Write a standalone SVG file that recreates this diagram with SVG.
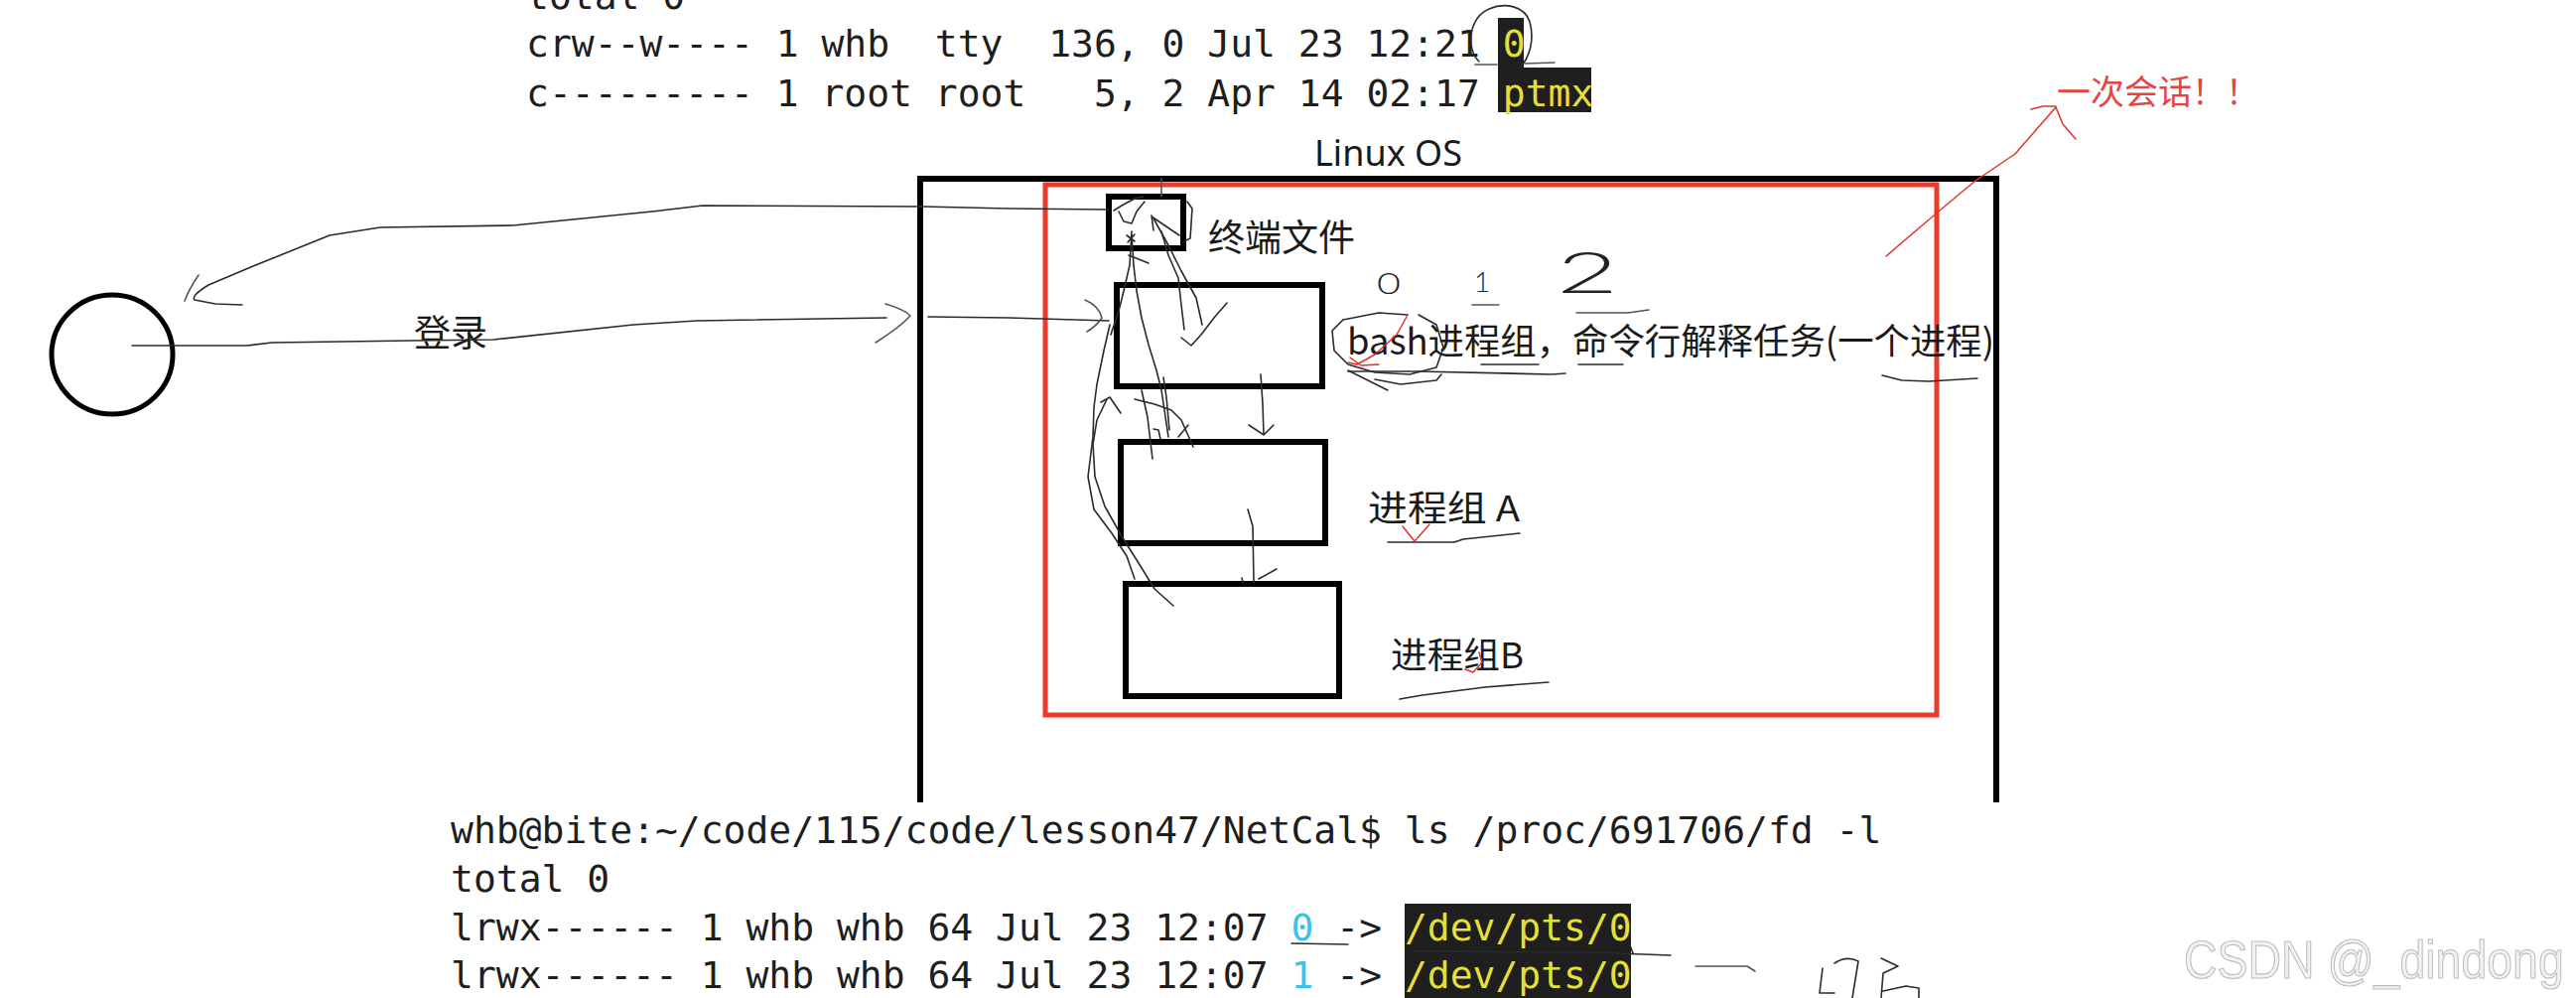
<svg xmlns="http://www.w3.org/2000/svg" width="2595" height="1005" viewBox="0 0 2595 1005">
<style>
.mono{font-family:"DejaVu Sans Mono","Liberation Mono",monospace;font-size:38px;fill:#1e1e1e;white-space:pre}
.yel{fill:#e4df3a}
.cyan{fill:#3fc0e6}
.hl{fill:#1f1f1f}
.cjk{font-family:"Noto Sans CJK SC","Noto Sans",sans-serif;font-size:36px;fill:#1a1a1a}
.box{fill:none;stroke:#000;stroke-width:6}
.ink{fill:none;stroke:#2a2a2a;stroke-width:1.6;stroke-linecap:round;stroke-linejoin:round}
.inkg{fill:none;stroke:#555;stroke-width:1.6;stroke-linecap:round;stroke-linejoin:round}
.inkr{fill:none;stroke:#e0322a;stroke-width:1.5;stroke-linecap:round;stroke-linejoin:round}
.hand{font-family:Lato,"Open Sans",sans-serif;font-weight:300;fill:#222}
</style>
<rect width="2595" height="1005" fill="#fff"/>

<g id="terminal-top">
<rect class="hl" x="1509" y="18" width="26" height="50"/>
<rect class="hl" x="1509" y="68" width="94" height="45"/>
<text class="mono" x="530" y="9">total 0</text>
<text class="mono" x="530" y="57">crw--w---- 1 whb  tty  136, 0 Jul 23 12:21 <tspan class="yel">0</tspan></text>
<text class="mono" x="530" y="107">c--------- 1 root root   5, 2 Apr 14 02:17 <tspan class="yel">ptmx</tspan></text>
<path class="inkg" d="M1486,65 L1508,65 M1536,64 L1566,63"/>
<path class="ink" d="M1490,62 C1476,48 1480,18 1500,9 C1516,2 1536,6 1541,22 C1546,40 1541,58 1531,68"/>
</g>

<g id="linux-os">
<text x="1324" y="167" style="font-family:'Noto Sans','Liberation Sans',sans-serif;font-size:36px;fill:#1a1a1a">Linux OS</text>
<path class="box" d="M927,808 V180 H2011 V808"/>
</g>

<g id="session">
<rect x="1053" y="186" width="898" height="534" fill="none" stroke="#ec3a2c" stroke-width="5"/>
<text x="2072" y="105" style="font-family:'Noto Sans CJK SC',sans-serif;font-size:34px;fill:#e5453f">一次会话！！</text>
</g>

<g id="user">
<ellipse cx="113" cy="357" rx="61" ry="60" fill="none" stroke="#000" stroke-width="5"/>
</g>

<g id="terminal-file">
<rect class="box" x="1117" y="198" width="75" height="52"/>
<text class="cjk" x="1217" y="253" style="font-size:37px">终端文件</text>
</g>

<g id="bash-group">
<rect class="box" x="1125" y="287" width="207" height="102"/>
<text class="cjk" x="1357" y="357" textLength="652" lengthAdjust="spacingAndGlyphs">bash进程组，命令行解释任务(一个进程)</text>
<text class="hand" x="1387" y="296" style="font-size:29px" textLength="24" lengthAdjust="spacingAndGlyphs">0</text>
<text class="hand" x="1485" y="294" style="font-size:28px">1</text>
<text class="hand" x="1568" y="295" style="font-size:58px" textLength="62" lengthAdjust="spacingAndGlyphs">2</text>
</g>

<g id="group-a">
<rect class="box" x="1129" y="445" width="206" height="102"/>
<text class="cjk" x="1378" y="525" textLength="153" lengthAdjust="spacingAndGlyphs">进程组 A</text>
</g>

<g id="group-b">
<rect class="box" x="1134" y="588" width="215" height="113"/>
<text class="cjk" x="1401" y="673" textLength="134" lengthAdjust="spacingAndGlyphs">进程组B</text>
</g>

<g id="login-label">
<text class="cjk" x="417" y="349" style="font-size:37px">登录</text>
</g>

<g id="connectors">
<path class="ink" d="M133,348 L249,348 L274,345 L415,343 L497,342 L638,327 L702,323 L893,320"/>
<path class="inkg" d="M892,306 Q912,312 917,318 Q906,330 882,345"/>
<path class="ink" d="M935,319 L1016,320 L1117,323"/>
<path class="inkg" d="M1093,302 Q1107,308 1110,320 Q1105,328 1095,334"/>
<path class="ink" d="M1116,211 L1016,210 L930,208 L708,207 L657,213 L517,227 L383,229 L332,237 L255,268 L210,287 Q192,298 196,302 L217,306 L244,307"/>
<path class="inkg" d="M200,277 Q190,292 186,303"/>
<path class="inkr" d="M1900,258 Q1950,215 1990,182 L2030,155 L2071,108"/>
<path class="inkr" d="M2046,110 L2058,107 L2071,107 M2071,108 L2078,125 L2091,140"/>
<path class="inkg" d="M1170,180 L1170,198"/>
<path class="ink" d="M1122,212 L1130,207 L1143,200 L1152,198 M1127,213 L1132,223 L1140,225 L1145,213 L1153,203"/>
<path class="ink" d="M1135,237 L1143,243 M1143,236 L1136,244"/>
<path class="ink" d="M1196,203 L1201,210 L1199,240 L1193,243"/>
<path class="ink" d="M1160,217 L1162,232 M1160,218 L1188,237"/>
<path class="ink" d="M1170,233 L1177,257 L1187,280 L1190,307 L1193,332"/>
<path class="ink" d="M1162,220 L1177,247 L1190,273 L1205,300 L1211,327"/>
<path class="ink" d="M1190,340 L1200,348 L1210,337 L1223,320 L1236,305"/>
<path class="ink" d="M1140,233 L1138,267 L1132,293 L1127,313 L1119,337"/>
<path class="ink" d="M1137,257 L1157,265"/>
<path class="ink" d="M1140,237 L1142,267 L1145,293 L1150,320 L1157,347 L1165,373 L1170,393 L1173,413 L1177,440"/>
<path class="ink" d="M1118,327 L1112,353 L1105,387 L1102,410 L1101,440 L1096,480 L1102,513 L1120,537 L1135,560 L1143,583"/>
<path class="ink" d="M1115,402 L1105,423 L1101,447 L1103,480 L1113,510 L1130,540 L1147,567 L1163,593 L1182,610"/>
<path class="ink" d="M1109,405 L1118,400 L1129,416"/>
<path class="ink" d="M1150,393 L1156,420 L1161,462"/>
<path class="ink" d="M1172,380 L1175,400 L1178,433"/>
<path class="ink" d="M1143,402 L1163,407 L1180,413 L1190,423 L1202,450"/>
<path class="ink" d="M1162,432 L1167,433 L1169,442 M1187,440 L1197,428"/>
<path class="ink" d="M1270,377 L1272,407 L1273,437"/>
<path class="ink" d="M1258,428 L1273,438 L1283,428"/>
<path class="ink" d="M1257,513 L1262,530 L1263,587"/>
<path class="ink" d="M1251,582 L1252,587 M1268,583 L1286,573"/>
</g>

<g id="annotations">
<path class="inkg" d="M1483,307 L1510,307 M1588,315 L1640,315 L1661,312"/>
<path class="ink" d="M1418,317 L1389,315 L1353,322 L1342,333 L1344,353 L1358,367 L1385,375 L1420,377 L1447,370 L1454,350 L1447,327 L1429,317"/>
<path class="ink" d="M1358,373 L1398,393 M1385,382 L1411,387 L1447,383 L1452,377"/>
<path class="inkr" d="M1418,317 L1407,337 L1385,357 L1367,367 L1358,365 M1360,360 L1371,368 L1389,367"/>
<path class="ink" d="M1358,374 L1429,374 L1563,377 L1577,376 M1492,367 L1550,367 M1590,367 L1635,367"/>
<path class="ink" d="M1896,378 L1916,383 L1943,384 L1992,381"/>
<path class="ink" d="M1398,546 L1465,546 L1474,543 L1531,537"/>
<path class="inkr" d="M1413,530 L1425,545 L1440,528"/>
<path class="ink" d="M1410,704 L1433,700 L1496,692 L1560,687"/>
<path class="inkr" d="M1490,657 L1493,667 L1484,677 L1476,674"/>
</g>

<g id="terminal-bottom">
<rect class="hl" x="1415" y="910" width="228" height="95"/>
<text class="mono" x="454" y="849">whb@bite:~/code/115/code/lesson47/NetCal$ ls /proc/691706/fd -l</text>
<text class="mono" x="454" y="898">total 0</text>
<text class="mono" x="454" y="947">lrwx------ 1 whb whb 64 Jul 23 12:07 <tspan class="cyan">0</tspan> -&gt; <tspan class="yel">/dev/pts/0</tspan></text>
<text class="mono" x="454" y="995">lrwx------ 1 whb whb 64 Jul 23 12:07 <tspan class="cyan">1</tspan> -&gt; <tspan class="yel">/dev/pts/0</tspan></text>
<path class="ink" d="M1301,950 L1358,951"/>
<path class="ink" d="M1425,958 L1600,959 L1683,962 M1642,952 L1645,960"/>
<path class="inkg" d="M1708,973 L1760,973 L1768,978"/>
<path class="ink" d="M1836,975 L1833,1000 L1848,1000 M1848,970 Q1860,962 1872,968 L1866,1005"/>
<path class="ink" d="M1895,965 L1912,973 L1897,980 L1895,1005 M1897,998 L1920,993 L1933,995 L1933,1005"/>
</g>

<g id="watermark">
<text transform="translate(2200,985) scale(0.86,1)" x="0" y="0" style="font-family:'Liberation Sans',sans-serif;font-size:54px;fill:#f2f2f2;stroke:#bdbdbd;stroke-width:1.2">CSDN @_dindong</text>
</g>
</svg>
